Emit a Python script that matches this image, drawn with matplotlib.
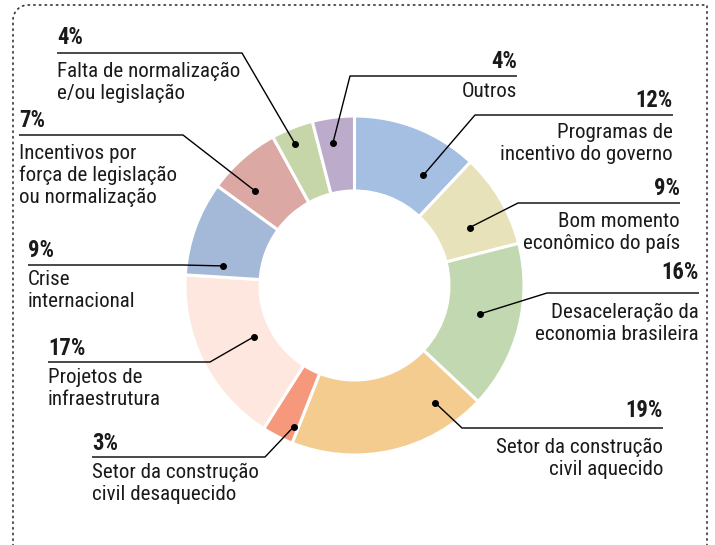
import numpy as np
import matplotlib
matplotlib.use('Agg')
import matplotlib.pyplot as plt
from matplotlib import font_manager as fm

# data (percent, clockwise from 12 o'clock)
labels = ['Programas de\nincentivo do governo',
          'Bom momento\neconômico do país',
          'Desaceleração da\neconomia brasileira',
          'Setor da construção\ncivil aquecido',
          'Setor da construção\ncivil desaquecido',
          'Projetos de\ninfraestrutura',
          'Crise\ninternacional',
          'Incentivos por\nforça de legislação\nou normalização',
          'Falta de normalização\ne/ou legislação',
          'Outros']
values = [12, 9, 16, 19, 3, 17, 9, 7, 4, 4]
colors = ['#a5bfe3', '#e8e2bb', '#c2d8b1', '#f4cc8f', '#f6987b',
          '#fde7de', '#a4b8d7', '#dba8a3', '#c7d6a8', '#bcabcb']

# label layout in pixels (y from top): text x, align, pct baseline, line y, first text baseline, elbow x
lay_x = [673, 680, 699, 663, 92, 48, 28, 19, 57, 517]
lay_ha = ['right', 'right', 'right', 'right', 'left', 'left', 'left', 'left', 'left', 'right']
lay_pct = [107, 195, 279, 417, 450, 355, 257, 127, 44, 68]
lay_line = [115, 203, 293, 428, 457, 362, 265, 135, 53, 76]
lay_txt = [138, 227, 318, 453, 478, 383, 285, 159, 77, 97]
lay_elbow = [475, 518, 547, 462, 265, 210, 183, 183, 242, 350]
# dot: fraction across the wedge (clockwise) and radius in px
dot_frac = [0.74, 0.62, 0.47, 0.18, 0.16, 0.5, 0.15, 0.3, 0.42, 0.4]
dot_r = [130, 129, 129, 142, 154, 113, 133, 137, 153, 144]

W, H = 715, 545
cx, cy = 354.5, H - 285.5
R, r_in = 168.5, 94.5

# narrow font if there is one
names = {f.name for f in fm.fontManager.ttflist}
font = 'Roboto Condensed' if 'Roboto Condensed' in names else 'Roboto'

fig = plt.figure(figsize=(W / 100, H / 100), dpi=100)
ax = fig.add_axes([0, 0, 1, 1])

wedges, _ = ax.pie(values, colors=colors, startangle=90, counterclock=False,
                   center=(cx, cy), radius=R + 1,
                   wedgeprops=dict(width=R - r_in + 1, edgecolor='white', linewidth=2.2))

ax.set_xlim(0, W)
ax.set_ylim(0, H)
ax.set_aspect('auto')
ax.axis('off')

# measure font size so the text width matches
fs = 13
t = ax.text(0, 0, 'Falta de normalização', fontsize=fs, family=font)
bb = t.get_window_extent(renderer=fig.canvas.get_renderer())
fs = fs * 183 / bb.width
t.remove()

for i in range(len(values)):
    w = wedges[i]
    ang = np.radians(w.theta2 - dot_frac[i] * (w.theta2 - w.theta1))
    dx = cx + dot_r[i] * np.cos(ang)
    dy = cy + dot_r[i] * np.sin(ang)
    ly = H - lay_line[i]
    ax.plot([lay_x[i], lay_elbow[i], dx], [ly, ly, dy], color='black', lw=1.0,
            solid_capstyle='butt', zorder=5)
    ax.plot(dx, dy, 'o', color='black', ms=4, zorder=6)
    ax.text(lay_x[i], H - lay_pct[i], f'{values[i]}%', ha=lay_ha[i], va='baseline',
            fontsize=fs * 1.08, fontweight='bold', family=font, color='#1a1a1a')
    for j, line in enumerate(labels[i].split('\n')):
        ax.text(lay_x[i], H - lay_txt[i] - 22 * j, line, ha=lay_ha[i], va='baseline',
                fontsize=fs, family=font, color='#1a1a1a')

# dotted frame, top left corner rounded
rc = 15
th = np.linspace(np.pi, np.pi / 2, 20)
fx = np.concatenate([[13, 13], 13 + rc + rc * np.cos(th), [707, 707]])
fy = np.concatenate([[-5, H - 5 - rc], H - 5 - rc + rc * np.sin(th), [H - 5, -5]])
ax.plot(fx, fy, color='#333333', lw=1.2, linestyle=(0, (0.8, 2.6)),
        dash_capstyle='round', zorder=1)

fig.savefig('out.png', dpi=100)
